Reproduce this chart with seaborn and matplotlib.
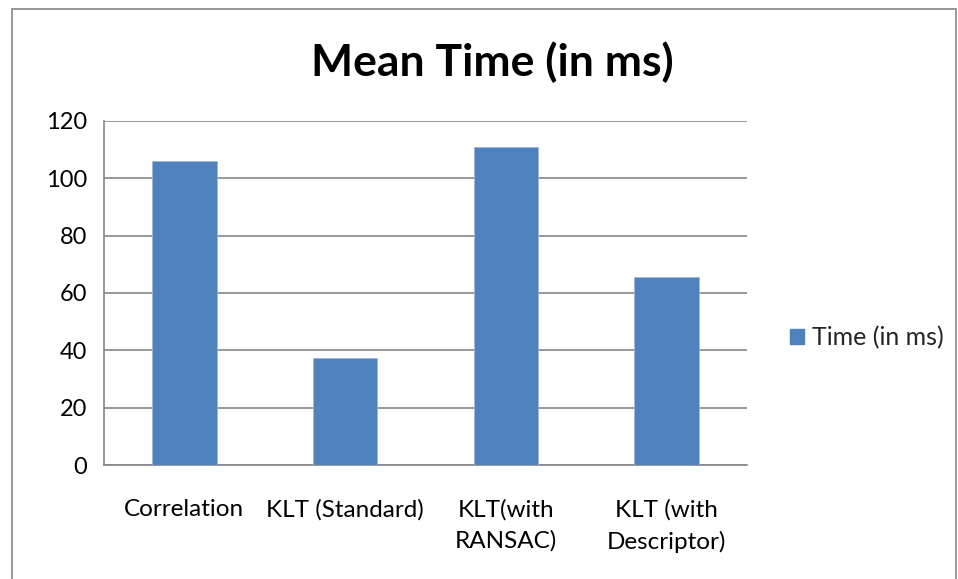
import matplotlib
matplotlib.use("Agg")
import matplotlib.pyplot as plt
import seaborn as sns
import pandas as pd
from matplotlib.patches import Rectangle, Patch

categories = ["Correlation", "KLT (Standard)", "KLT(with\nRANSAC)", "KLT (with\nDescriptor)"]
values = [106, 37.2, 111, 65.5]
series_name = "Time (in ms)"
yticks = [0, 20, 40, 60, 80, 100, 120]

df = pd.DataFrame({"cat": categories, "val": values})

sns.set_style("white")
plt.rcParams["font.family"] = ["Lato", "DejaVu Sans"]

fig = plt.figure(figsize=(9.58, 5.79), dpi=100)
ax = fig.add_axes([104/958, 1-465/579, (747-104)/958, (465-121)/579])

bar_color = "#4F81BD"
sns.barplot(data=df, x="cat", y="val", color=bar_color, width=0.4, ax=ax,
            saturation=1, edgecolor="#9DB9DE", linewidth=0.6, zorder=3)

ax.set_ylim(0, 120)
ax.set_xlim(-0.5, len(categories) - 0.5)
ax.set_yticks(yticks)
ax.set_yticklabels([str(t) for t in yticks], fontsize=17, color="black")
ax.set_xlabel("")
ax.set_ylabel("")
ax.yaxis.grid(True, color="#868686", linewidth=1.2, zorder=0)
ax.set_axisbelow(True)

ax.set_xticks(range(len(categories)))
ax.set_xticklabels(categories, fontsize=17.5, color="black", linespacing=1.55, va="top")
ax.tick_params(axis="x", which="major", length=0, pad=24.5)
ax.set_xticks([i - 0.5 for i in range(len(categories) + 1)], minor=True)
ax.tick_params(axis="x", which="minor", length=7, width=1.2, color="#868686", direction="out")
ax.tick_params(axis="y", which="major", length=6, width=1.2, color="#868686", direction="out", pad=6)

for s in ["top", "right"]:
    ax.spines[s].set_visible(False)
for s in ["left", "bottom"]:
    ax.spines[s].set_color("#868686")
    ax.spines[s].set_linewidth(1.2)

fig.text(492/958, 1-62/579, "Mean Time (in ms)", ha="center", va="center",
         fontsize=32, fontweight="bold", color="black")

handle = Patch(facecolor=bar_color, edgecolor=bar_color)
fig.legend([handle], [series_name], loc="center left", bbox_to_anchor=(790/958, 1-338/579),
           frameon=False, fontsize=18, handlelength=0.55, handleheight=0.55,
           handletextpad=0.35, borderpad=0, borderaxespad=0)

fig.patches.append(Rectangle((12/958, -0.05), (956-12)/958, 1.05 - 9/579, transform=fig.transFigure,
                             fill=False, edgecolor="#868686", linewidth=1.2))

fig.savefig("out.png", dpi=100)
